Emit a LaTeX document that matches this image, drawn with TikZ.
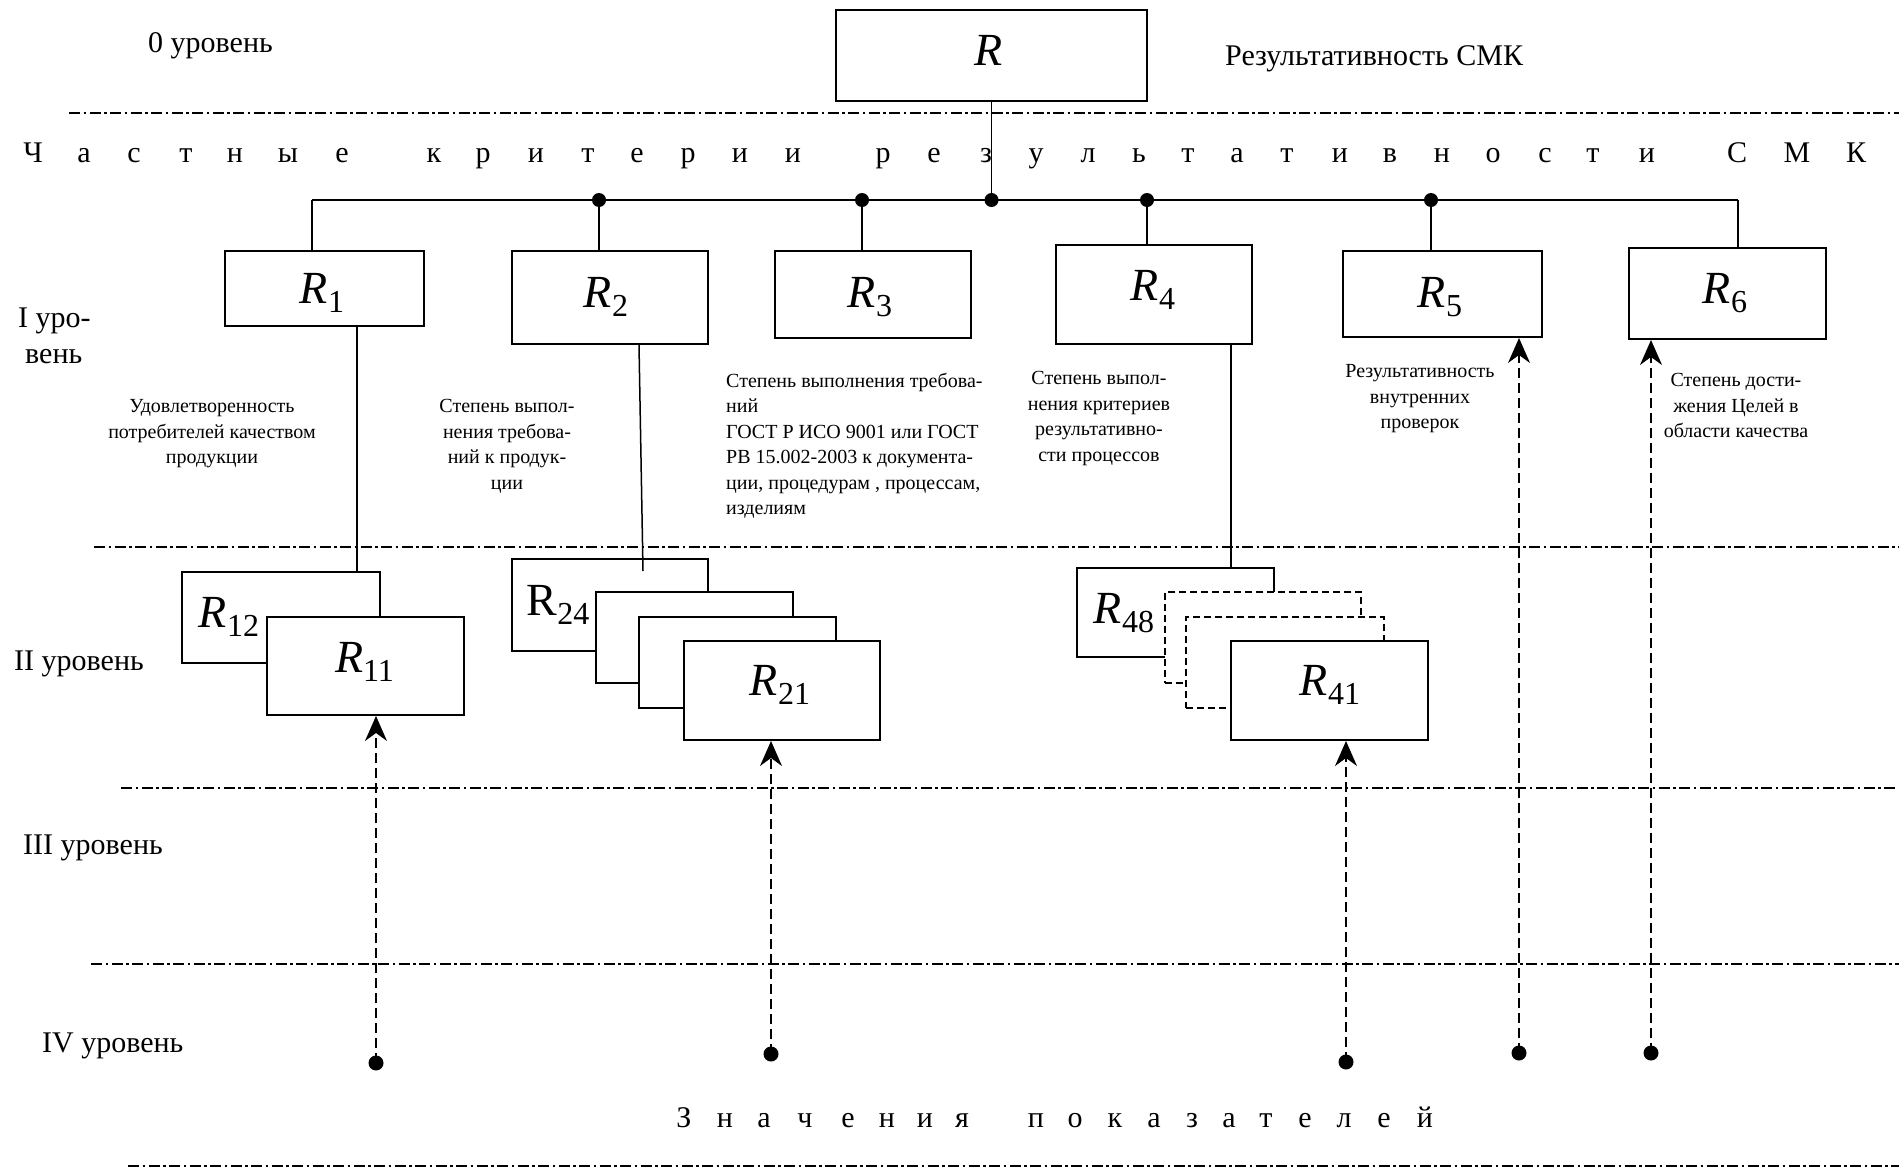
\documentclass[tikz,border=0pt]{standalone}
\usepackage{fontspec}
\setmainfont{Liberation Serif}
\usetikzlibrary{arrows.meta}
\newcommand{\RLab}[1]{{\fontsize{46}{46}\selectfont\itshape R}\raisebox{-9pt}{\fontsize{32}{32}\selectfont #1}}
\newcommand{\RUp}[1]{{\fontsize{46}{46}\selectfont R}\raisebox{-9pt}{\fontsize{32}{32}\selectfont #1}}
\begin{document}
\begin{tikzpicture}[x=1pt,y=-1pt,
  box/.style={draw, line width=2pt, fill=white, inner sep=0pt, rectangle},
  dbox/.style={box, dash pattern=on 7pt off 4pt},
  lab/.style={inner sep=0pt, anchor=base},
  lvl/.style={inner sep=0pt, anchor=base west, font=\fontsize{30}{30}\selectfont},
  hdr/.style={inner sep=0pt, anchor=base, font=\fontsize{30}{30}\selectfont},
  desc/.style={inner sep=0pt, anchor=north, font=\fontsize{20}{25.5}\selectfont, align=center},
  levelline/.style={line width=2pt, dash pattern=on 11pt off 3.5pt on 2.5pt off 3.5pt},
  conn/.style={line width=1.5pt},
  arr/.style={line width=1.5pt, dash pattern=on 10pt off 5pt, -{Stealth[length=25pt,width=22pt,inset=8pt]}},
  busdot/.style={circle, fill, inner sep=0pt, minimum size=14pt},
  enddot/.style={circle, fill, inner sep=0pt, minimum size=15pt},
]
\useasboundingbox (0,0) rectangle (1899,1170);

% level separator lines
\draw[levelline] (69,113) -- (1899,113);
\draw[levelline] (94,547) -- (1899,547);
\draw[levelline] (121,788) -- (1899,788);
\draw[levelline] (91,964) -- (1899,964);
\draw[levelline] (128,1166) -- (1899,1166);

% level labels
\node[lvl] (L0) at (148,52) {0 уровень};
\node[lvl] (L1a) at (18,327) {I уро-};
\node[lvl] (L1b) at (25,363) {вень};
\node[lvl] (L2) at (14,670) {II уровень};
\node[lvl] (L3) at (23,854) {III уровень};
\node[lvl] (L4) at (42,1052) {IV уровень};
\node[lvl] (smk) at (1225,65) {Результативность СМК};

% spaced headings
\foreach \c/\x in {Ч/33,а/84,с/134,т/186,н/235,ы/288,е/342,к/434,р/483,и/536,т/588,е/637,р/688,и/740,и/793,р/883,е/934,з/986,у/1036,л/1088,ь/1139,т/1188,а/1237,т/1287,и/1340,в/1390,н/1442,о/1493,с/1545,т/1593,и/1647,С/1737,М/1797,К/1856}
  {\node[hdr] (h\x) at (\x,162) {\c};}
\foreach \c/\x in {З/684,н/725,а/764,ч/805,е/848,н/887,и/925,я/962,п/1036,о/1075,к/1115,а/1154,з/1192,а/1229,т/1266,е/1305,л/1344,е/1384,й/1425}
  {\node[hdr] (z\x) at (\x,1127) {\c};}

% level 0 and level I boxes
\node[box, minimum width=311pt, minimum height=91pt] (R) at (991.5,55.5) {};
\node[lab] (Rl) at (989,65) {\fontsize{46}{46}\selectfont\itshape R};
\node[box, minimum width=199pt, minimum height=75pt] (R1) at (324.5,288.5) {};
\node[box, minimum width=196pt, minimum height=93pt] (R2) at (610,297.5) {};
\node[box, minimum width=196pt, minimum height=87pt] (R3) at (873,294.5) {};
\node[box, minimum width=196pt, minimum height=99pt] (R4) at (1154,294.5) {};
\node[box, minimum width=199pt, minimum height=86pt] (R5) at (1442.5,294) {};
\node[box, minimum width=197pt, minimum height=91pt] (R6) at (1727.5,293.5) {};
\node[lab] (R1l) at (322,303) {\RLab{1}};
\node[lab] (R2l) at (606,307) {\RLab{2}};
\node[lab] (R3l) at (870,307) {\RLab{3}};
\node[lab] (R4l) at (1153,300) {\RLab{4}};
\node[lab] (R5l) at (1440,307) {\RLab{5}};
\node[lab] (R6l) at (1725,303) {\RLab{6}};

% bus
\coordinate (c1) at (312,200);
\coordinate (c6) at (1738,200);
\node[busdot] (j0) at (991.5,200) {};
\node[busdot] (j2) at (599,200) {};
\node[busdot] (j3) at (862,200) {};
\node[busdot] (j4) at (1147,200) {};
\node[busdot] (j5) at (1431,200) {};
\draw[conn] (c1) -- (c6);
\draw[conn] (R.south) -- (j0.center);
\draw[conn] (c1) -- (c1 |- R1.north);
\draw[conn] (j2.center) -- (j2.center |- R2.north);
\draw[conn] (j3.center) -- (j3.center |- R3.north);
\draw[conn] (j4.center) -- (j4.center |- R4.north);
\draw[conn] (j5.center) -- (j5.center |- R5.north);
\draw[conn] (c6) -- (c6 |- R6.north);

% descriptions
\node[desc] (D1) at (212,399.5) {Удовлетворенность\\потребителей качеством\\продукции};
\node[desc] (D2) at (507,399.5) {Степень выпол-\\нения требова-\\ний к продук-\\ции};
\node[desc, anchor=north west, align=left] (D3) at (726,372.5) {Степень выполнения требова-\\ний\\ГОСТ Р ИСО 9001 или ГОСТ\\РВ 15.002-2003 к документа-\\ции, процедурам , процессам,\\изделиям};
\node[desc] (D4) at (1099,371.5) {Степень выпол-\\нения критериев\\результативно-\\сти процессов};
\node[desc] (D5) at (1420,364.5) {Результативность\\внутренних\\проверок};
\node[desc] (D6) at (1736,373.5) {Степень дости-\\жения Целей в\\области качества};

% level II boxes
\node[box, minimum width=198pt, minimum height=91pt] (R12) at (281,617.5) {};
\node[lab] (R12l) at (229,627) {\RLab{12}};
\node[box, minimum width=197pt, minimum height=98pt] (R11) at (365.5,666) {};
\node[lab] (R11l) at (364.5,672) {\RLab{11}};

\node[box, minimum width=196pt, minimum height=92pt] (R24) at (610,605) {};
\node[lab] (R24l) at (558,615) {\RUp{24}};
\node[box, minimum width=197pt, minimum height=91pt] (B22) at (694.5,637.5) {};
\node[box, minimum width=197pt, minimum height=91pt] (B23) at (737.5,662.5) {};
\node[box, minimum width=196pt, minimum height=99pt] (R21) at (782,690.5) {};
\node[lab] (R21l) at (780,695) {\RLab{21}};

\node[box, minimum width=197pt, minimum height=89pt] (R48) at (1175.5,612.5) {};
\node[lab] (R48l) at (1124,623) {\RLab{48}};
\node[dbox, minimum width=196pt, minimum height=91pt] (D42) at (1263,637.5) {};
\node[dbox, minimum width=198pt, minimum height=91pt] (D43) at (1285,662.5) {};
\node[box, minimum width=197pt, minimum height=99pt] (R41) at (1329.5,690.5) {};
\node[lab] (R41l) at (1330,695) {\RLab{41}};

% links level I -> level II
\draw[conn] ([xshift=32.5pt]R1.south) -- ([xshift=32.5pt]R1.south |- R12.north);
\coordinate (r2end) at (643,571);
\draw[conn] ([xshift=29pt]R2.south) -- (r2end);
\draw[conn] ([xshift=77pt]R4.south) -- ([xshift=77pt]R4.south |- R48.north);

% indicator values (level IV) with dashed arrows
\node[enddot] (d1) at (376,1063) {};
\node[enddot] (d2) at (771,1054) {};
\node[enddot] (d3) at (1346,1062) {};
\node[enddot] (d4) at (1519,1053) {};
\node[enddot] (d5) at (1651,1053) {};
\draw[arr] (d1.center) -- (d1.center |- R11.south);
\draw[arr] (d2.center) -- (d2.center |- R21.south);
\draw[arr] (d3.center) -- (d3.center |- R41.south);
\draw[arr] (d4.center) -- (d4.center |- R5.south);
\draw[arr] (d5.center) -- (d5.center |- R6.south);
\end{tikzpicture}
\end{document}
